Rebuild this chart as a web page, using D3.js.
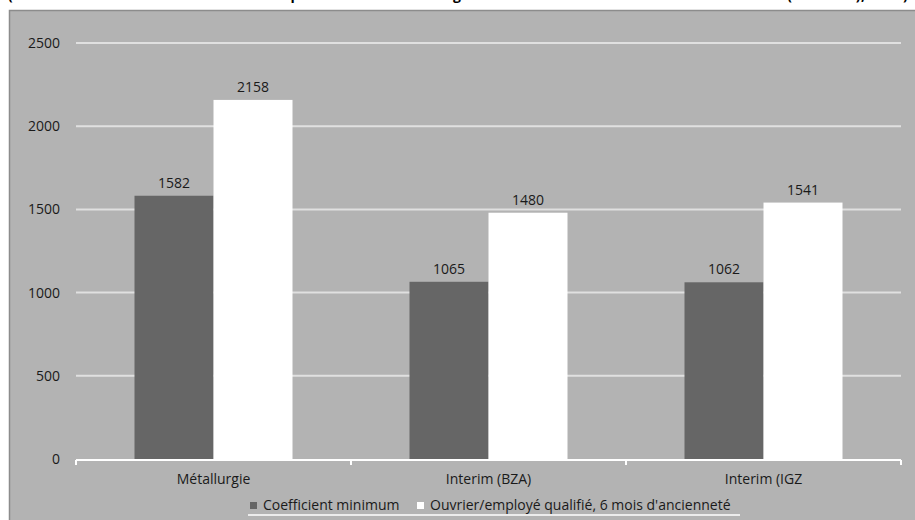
<!DOCTYPE html>
<html>
<head>
<meta charset="utf-8">
<script src="https://cdn.jsdelivr.net/npm/d3@7"></script>
<style>
  body { margin: 0; background: #fff; }
  text { font-family: "Open Sans", "DejaVu Sans", sans-serif; }
</style>
</head>
<body>
<div id="chart"></div>
<script>
// data
var categories = ["Métallurgie", "Interim (BZA)", "Interim (IGZ"];
var seriesNames = ["Coefficient minimum", "Ouvrier/employé qualifié, 6 mois d'ancienneté"];
var coefMin = [1582, 1065, 1062];
var ouvrierQualifie = [2158, 1480, 1541];
var yTicks = [0, 500, 1000, 1500, 2000, 2500];
var titleText = "(Montant du salaire mensuel brut comparé entre la métallurgie et les conventions collectives de l'intérim (en euros), 2010).";

var width = 915, height = 520;
var colors = ["#666666", "#ffffff"];
var fs = 14;

var svg = d3.select("#chart").append("svg")
    .attr("width", width)
    .attr("height", height);

// title, cut off at top like in the source
svg.append("text")
    .attr("x", 8)
    .attr("y", -0.5)
    .attr("font-family", "Liberation Sans, Arial, sans-serif")
    .attr("font-weight", "bold")
    .attr("font-size", 14)
    .attr("textLength", 904)
    .attr("fill", "#000")
    .text(titleText);

// gray panel
svg.append("rect")
    .attr("x", 9.5).attr("y", 10.5)
    .attr("width", width).attr("height", height)
    .attr("fill", "#b3b3b3")
    .attr("stroke", "#8c8c8c")
    .attr("stroke-width", 1.5);

var x0 = d3.scaleBand()
    .domain(categories)
    .range([76, 901]);

var x1 = d3.scaleBand()
    .domain([0, 1])
    .range([58.5, x0.bandwidth() - 58.5]);

var y = d3.scaleLinear()
    .domain([0, 2500])
    .range([459, 43]);

// gridlines
svg.append("g")
    .selectAll("line")
    .data(yTicks.filter(function(d) { return d > 0; }))
    .enter().append("line")
    .attr("x1", 76).attr("x2", 901)
    .attr("y1", function(d) { return y(d); })
    .attr("y2", function(d) { return y(d); })
    .attr("stroke", "#e0e0e0")
    .attr("stroke-width", 2);

// y labels
svg.append("g")
    .selectAll("text")
    .data(yTicks)
    .enter().append("text")
    .attr("x", 60)
    .attr("y", function(d) { return y(d); })
    .attr("dy", "0.35em")
    .attr("text-anchor", "end")
    .attr("font-size", fs)
    .attr("fill", "#1a1a1a")
    .text(function(d) { return d; });

// bars
var groups = svg.append("g")
    .selectAll("g")
    .data(categories)
    .enter().append("g")
    .attr("transform", function(d) { return "translate(" + x0(d) + ",0)"; });

var bars = groups.selectAll("g")
    .data(function(d, i) { return [coefMin[i], ouvrierQualifie[i]]; })
    .enter().append("g");

bars.append("rect")
    .attr("x", function(d, j) { return x1(j); })
    .attr("width", x1.bandwidth())
    .attr("y", function(d) { return y(d); })
    .attr("height", function(d) { return y(0) - y(d); })
    .attr("fill", function(d, j) { return colors[j]; });

bars.append("text")
    .attr("x", function(d, j) { return x1(j) + x1.bandwidth() / 2; })
    .attr("y", function(d) { return y(d) - 8; })
    .attr("text-anchor", "middle")
    .attr("font-size", fs)
    .attr("fill", "#1a1a1a")
    .text(function(d) { return d; });

// x axis
var ax = svg.append("g")
    .attr("transform", "translate(0," + (y(0) + 1) + ")");
ax.append("line")
    .attr("x1", 76).attr("x2", 901)
    .attr("stroke", "#fff").attr("stroke-width", 2);
ax.selectAll("line.tk")
    .data(d3.range(categories.length + 1))
    .enter().append("line")
    .attr("class", "tk")
    .attr("x1", function(d) { return 76 + d * x0.step(); })
    .attr("x2", function(d) { return 76 + d * x0.step(); })
    .attr("y1", 0).attr("y2", 5)
    .attr("stroke", "#fff").attr("stroke-width", 2);
ax.selectAll("text")
    .data(categories)
    .enter().append("text")
    .attr("x", function(d) { return x0(d) + x0.bandwidth() / 2; })
    .attr("y", 24)
    .attr("text-anchor", "middle")
    .attr("font-size", fs)
    .attr("fill", "#1a1a1a")
    .text(function(d) { return d; });

// legend
var legend = svg.append("g");
var legX = [250, 417];
seriesNames.forEach(function(name, i) {
    legend.append("rect")
        .attr("x", legX[i]).attr("y", 502)
        .attr("width", 7).attr("height", 7)
        .attr("fill", colors[i]);
    legend.append("text")
        .attr("x", legX[i] + 13)
        .attr("y", 510)
        .attr("font-size", fs)
        .attr("fill", "#1a1a1a")
        .text(name);
});
legend.append("line")
    .attr("x1", 248).attr("x2", 740)
    .attr("y1", 515).attr("y2", 515)
    .attr("stroke", "#fff").attr("stroke-width", 1.5);
</script>
</body>
</html>
